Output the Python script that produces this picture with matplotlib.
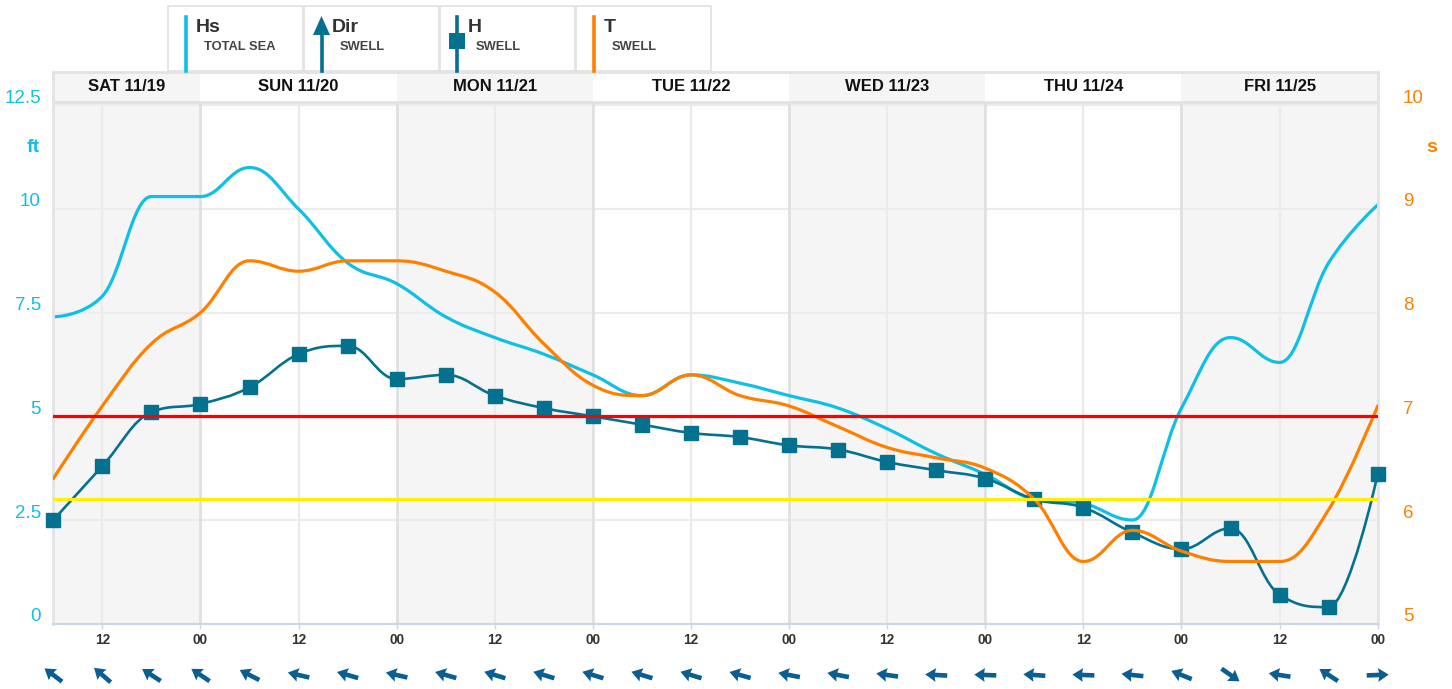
import matplotlib
matplotlib.use('Agg')
import matplotlib.pyplot as plt
import numpy as np
from matplotlib.path import Path
from matplotlib.patches import PathPatch, Rectangle, Polygon
from matplotlib.lines import Line2D
import matplotlib.transforms as mtransforms

plt.rcParams['font.family'] = ['Liberation Sans', 'DejaVu Sans']

# ---------------- data ----------------
HOURS = [6, 12, 18, 24, 30, 36, 42, 48, 54, 60, 66, 72, 78, 84, 90, 96,
         102, 108, 114, 120, 126, 132, 138, 144, 150, 156, 162, 168]
DAYS = ['SAT 11/19', 'SUN 11/20', 'MON 11/21', 'TUE 11/22', 'WED 11/23', 'THU 11/24', 'FRI 11/25']
DAY_START = [0, 24, 48, 72, 96, 120, 144]
HS_TOTAL = [7.4, 7.9, 10.3, 10.3, 11.0, 10.0, 8.7, 8.2, 7.4, 6.9, 6.5, 6.0, 5.5, 6.0,
            5.8, 5.5, 5.2, 4.7, 4.1, 3.6, 3.0, 2.9, 2.5, 5.2, 6.9, 6.3, 8.7, 10.1]
H_SWELL = [2.5, 3.8, 5.1, 5.3, 5.7, 6.5, 6.7, 5.9, 6.0, 5.5, 5.2, 5.0, 4.8, 4.6,
           4.5, 4.3, 4.2, 3.9, 3.7, 3.5, 3.0, 2.8, 2.2, 1.8, 2.3, 0.7, 0.4, 3.6]
T_SWELL = [6.4, 7.1, 7.7, 8.0, 8.5, 8.4, 8.5, 8.5, 8.4, 8.2, 7.7, 7.3, 7.2, 7.4,
           7.2, 7.1, 6.9, 6.7, 6.6, 6.5, 6.2, 5.6, 5.9, 5.7, 5.6, 5.6, 6.1, 7.1]
DIR_SWELL = [127, 131, 123, 124, 117, 103, 106, 103, 106, 107, 107, 107, 107, 107,
             106, 101, 101, 98, 93, 92, 94, 92, 96, 112, 305, 99, 123, 268]
TICK_HOURS = [12, 24, 36, 48, 60, 72, 84, 96, 108, 120, 132, 144, 156, 168]
TICK_LABELS = ['12', '00', '12', '00', '12', '00', '12', '00', '12', '00', '12', '00', '12', '00']
FT_TICKS = [0, 2.5, 5, 7.5, 10, 12.5]
FT_LABELS = ['0', '2.5', '5', '7.5', '10', '12.5']
S_TICKS = [5, 6, 7, 8, 9, 10]
RED_LEVEL = 5.0
YELLOW_LEVEL = 3.0
LEG_TITLES = ['Hs', 'Dir', 'H', 'T']
LEG_SUBS = ['TOTAL SEA', 'SWELL', 'SWELL', 'SWELL']

C_HS = '#10bfe6'
C_H = '#04718f'
C_T = '#ff8000'
C_ARROW = '#0b5e92'
C_GRAY = '#f5f5f5'
C_BORDER = '#e3e3e3'

W, H = 1452, 689
fig = plt.figure(figsize=(W / 100, H / 100), dpi=100)

X0, X1 = 53.3, 1377.7
Y_TOP, Y_BOT = 102.0, 623.7
YMAX = 12.58


def fx(x):
    return x / W


def fy(y):
    return 1 - y / H


def hc_spline(xs, ys):
    n = len(xs)
    verts = [(xs[0], ys[0])]
    codes = [Path.MOVETO]
    rc = [None] * n
    sm, den = 1.5, 2.5
    for i in range(1, n):
        px, py = xs[i], ys[i]
        lcx, lcy = px, py
        if i < n - 1:
            lx, ly = xs[i - 1], ys[i - 1]
            nx, ny = xs[i + 1], ys[i + 1]
            lcx = (sm * px + lx) / den
            lcy = (sm * py + ly) / den
            rcx = (sm * px + nx) / den
            rcy = (sm * py + ny) / den
            corr = 0.0
            if rcx != lcx:
                corr = (rcy - lcy) * (rcx - px) / (rcx - lcx) + py - rcy
            lcy += corr
            rcy += corr
            if lcy > ly and lcy > py:
                lcy = max(ly, py); rcy = 2 * py - lcy
            elif lcy < ly and lcy < py:
                lcy = min(ly, py); rcy = 2 * py - lcy
            if rcy > ny and rcy > py:
                rcy = max(ny, py); lcy = 2 * py - rcy
            elif rcy < ny and rcy < py:
                rcy = min(ny, py); lcy = 2 * py - rcy
            rc[i] = (rcx, rcy)
        prev = rc[i - 1] if rc[i - 1] is not None else (xs[i - 1], ys[i - 1])
        verts += [prev, (lcx, lcy), (px, py)]
        codes += [Path.CURVE4] * 3
    return Path(verts, codes)


# ---------------- main axes ----------------
ax = fig.add_axes([fx(X0), fy(Y_BOT), (X1 - X0) / W, (Y_BOT - Y_TOP) / H])
ax.set_xlim(6, 168)
ax.set_ylim(0, YMAX)
ax2 = ax.twinx()
ax2.set_ylim(5, 5 + YMAX * 0.4)
ax2.set_axis_off()

for i, ds in enumerate(DAY_START):
    if i % 2 == 0:
        ax.axvspan(max(ds, 6), ds + 24, color=C_GRAY, zorder=0, lw=0)
for v in FT_TICKS[1:]:
    ax.axhline(v, color='#ececec', lw=1.6, zorder=0.5)
for h in TICK_HOURS[:-1]:
    if h % 24 == 0:
        ax.axvline(h, color='#e0e0e0', lw=2.0, zorder=0.6)
    else:
        ax.axvline(h, color='#ebebeb', lw=1.6, zorder=0.6)

ax.add_patch(PathPatch(hc_spline(HOURS, HS_TOTAL), fc='none', ec=C_HS, lw=2.3, zorder=2,
                       capstyle='round', joinstyle='round'))
ax.add_patch(PathPatch(hc_spline(HOURS, H_SWELL), fc='none', ec=C_H, lw=1.9, zorder=3,
                       capstyle='round', joinstyle='round'))
ax.plot(HOURS, H_SWELL, ls='none', marker='s', ms=10.3, color=C_H, zorder=3.5, clip_on=False)
ax.add_patch(PathPatch(hc_spline(HOURS, T_SWELL), fc='none', ec=C_T, lw=2.3, zorder=4,
                       transform=ax2.transData, capstyle='round', joinstyle='round'))
ax.axhline(RED_LEVEL, color='#ff0000', lw=2.3, zorder=5)
ax.axhline(YELLOW_LEVEL, color='#fff000', lw=2.3, zorder=5)

for s in ['left', 'right', 'top']:
    ax.spines[s].set_color(C_BORDER)
    ax.spines[s].set_linewidth(2.0)
ax.spines['bottom'].set_color('#ccd6eb')
ax.spines['bottom'].set_linewidth(1.6)
ax.set_yticks([])
ax.set_xticks(TICK_HOURS)
ax.set_xticklabels(TICK_LABELS)
ax.tick_params(axis='x', length=3.6, width=1, color='#ccd6eb', pad=3, labelsize=9.8, labelcolor='#333333')
for lbl in ax.get_xticklabels():
    lbl.set_fontweight('bold')

# y labels (left ft / right s)
tl = mtransforms.offset_copy(ax.get_yaxis_transform(), fig=fig, x=0, y=7, units='dots')
for v, t in zip(FT_TICKS, FT_LABELS):
    ax.text((41 - X0) / (X1 - X0), v, t, transform=tl, ha='right', va='center',
            fontsize=13.5, color=C_HS, clip_on=False)
tr = mtransforms.offset_copy(ax2.get_yaxis_transform(), fig=fig, x=0, y=7, units='dots')
for v in S_TICKS:
    ax.text((1403 - X0) / (X1 - X0), v, str(v), transform=tr, ha='left', va='center',
            fontsize=13.5, color=C_T, clip_on=False)
fig.text(fx(33), fy(147), 'ft', ha='center', va='center', fontsize=14, fontweight='bold', color=C_HS)
fig.text(fx(1432), fy(148), 's', ha='center', va='center', fontsize=14, fontweight='bold', color=C_T)

# ---------------- header ----------------
hx = fig.add_axes([fx(X0), fy(Y_TOP), (X1 - X0) / W, (Y_TOP - 71.5) / H])
hx.set_xlim(6, 168)
hx.set_ylim(0, 1)
for i, (ds, name) in enumerate(zip(DAY_START, DAYS)):
    a, b = max(ds, 6), ds + 24
    if i % 2 == 0:
        hx.axvspan(a, b, color=C_GRAY, lw=0, zorder=0)
    hx.text((a + b) / 2, 0.5, name, ha='center', va='center', fontsize=12,
            fontweight='bold', color='#111111')
hx.set_xticks([])
hx.set_yticks([])
for s in hx.spines.values():
    s.set_color(C_BORDER)
    s.set_linewidth(2.0)

# ---------------- direction arrows ----------------
aa = fig.add_axes([fx(X0), 0, (X1 - X0) / W, 28 / H])
aa.set_xlim(6, 168)
aa.set_ylim(0, 1)
aa.set_axis_off()
ang = np.deg2rad(270 - np.array(DIR_SWELL, dtype=float))
L = 22
q = aa.quiver(HOURS, [0.5] * len(HOURS), L * np.cos(ang), L * np.sin(ang), angles='uv',
              scale_units='dots', scale=1, units='dots', width=4.6, headwidth=3.0,
              headlength=2.3, headaxislength=2.1, pivot='middle', color=C_ARROW)
q.set_clip_on(False)

# ---------------- legend boxes ----------------
LEG_X = [168, 304, 440, 576]
LEG_C = [C_HS, C_H, C_H, C_T]
for k, (x0, title, sub, c) in enumerate(zip(LEG_X, LEG_TITLES, LEG_SUBS, LEG_C)):
    fig.add_artist(Rectangle((fx(x0), fy(71)), 135 / W, 65 / H, transform=fig.transFigure,
                             fc='white', ec=C_BORDER, lw=1.3))
    bx = x0 + 17.5
    if k == 1:
        fig.add_artist(Line2D([fx(bx), fx(bx)], [fy(33), fy(71)], transform=fig.transFigure,
                              color=c, lw=2.6))
        fig.add_artist(Polygon([(fx(bx - 8.5), fy(35)), (fx(bx + 8.5), fy(35)), (fx(bx), fy(16))],
                               closed=True, transform=fig.transFigure, fc=c, ec='none'))
    else:
        fig.add_artist(Line2D([fx(bx), fx(bx)], [fy(17), fy(71)], transform=fig.transFigure,
                              color=c, lw=2.6))
    if k == 2:
        fig.add_artist(Rectangle((fx(bx - 8), fy(49)), 16 / W, 16 / H, transform=fig.transFigure,
                                 fc=c, ec='none'))
    fig.text(fx(x0 + 28), fy(32.5), title, ha='left', va='baseline', fontsize=14,
             fontweight='bold', color='#333333')
    fig.text(fx(x0 + 36), fy(49.5), sub, ha='left', va='baseline', fontsize=9.3,
             fontweight='bold', color='#444444')

fig.savefig('out.png', dpi=100)
